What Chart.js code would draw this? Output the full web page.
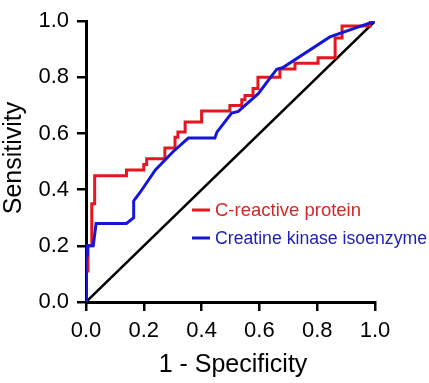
<!DOCTYPE html>
<html>
<head>
<meta charset="utf-8">
<script src="https://cdn.jsdelivr.net/npm/chart.js@4/dist/chart.umd.min.js"></script>
<style>
  html, body { margin: 0; padding: 0; background: #fff; }
  #wrap { width: 429px; height: 383px; }
</style>
</head>
<body>
<div id="wrap"><canvas id="rocchart" width="429" height="383"></canvas></div>
<script>
// ROC points: [1 - specificity, sensitivity]
const crpFpr  = [0, 0, 0.007, 0.007, 0.02, 0.02, 0.03, 0.03, 0.14, 0.14, 0.2, 0.2, 0.21, 0.21, 0.273, 0.273, 0.308, 0.308, 0.318, 0.318, 0.343, 0.343, 0.40, 0.40, 0.498, 0.498, 0.539, 0.539, 0.55, 0.55, 0.578, 0.578, 0.595, 0.595, 0.671, 0.671, 0.723, 0.723, 0.803, 0.803, 0.862, 0.862, 0.886, 0.886, 0.983, 0.983, 1];
const crpSens = [0, 0.11, 0.11, 0.2, 0.2, 0.35, 0.35, 0.45, 0.45, 0.47, 0.47, 0.49, 0.49, 0.51, 0.51, 0.548, 0.548, 0.587, 0.587, 0.605, 0.605, 0.641, 0.641, 0.68, 0.68, 0.70, 0.70, 0.72, 0.72, 0.735, 0.735, 0.76, 0.76, 0.80, 0.80, 0.83, 0.83, 0.85, 0.85, 0.87, 0.87, 0.94, 0.94, 0.983, 0.983, 1, 1];

const ckFpr  = [0, 0, 0.005, 0.005, 0.025, 0.035, 0.14, 0.165, 0.165, 0.187, 0.24, 0.302, 0.354, 0.446, 0.453, 0.504, 0.527, 0.596, 0.66, 0.68, 0.844, 1];
const ckSens = [0, 0.15, 0.17, 0.2, 0.2, 0.28, 0.28, 0.30, 0.36, 0.39, 0.47, 0.536, 0.584, 0.584, 0.605, 0.673, 0.679, 0.742, 0.829, 0.834, 0.944, 1];

const refFpr  = [0, 1];
const refSens = [0, 1];

const tickVals = [0, 0.2, 0.4, 0.6, 0.8, 1.0];

const legendNames  = ['C-reactive protein', 'Creatine kinase isoenzyme'];
const legendColors = ['rgb(228,22,32)', 'rgb(22,22,214)'];
const legendText   = ['rgb(210,40,40)', 'rgb(30,30,180)'];

function pts(xs, ys) {
  return xs.map((x, i) => ({ x: x, y: ys[i] }));
}

const FONT = '"Liberation Sans", Arial, sans-serif';

// titles and legend are drawn by hand to sit where the original has them
const extras = {
  id: 'extras',
  afterDraw(chart) {
    const c = chart.ctx;
    c.save();
    c.fillStyle = '#000';
    c.textAlign = 'center';
    c.textBaseline = 'middle';
    c.font = '25px ' + FONT;
    c.fillText('1 - Specificity', 233, 365);
    c.translate(14, 158);
    c.rotate(-Math.PI / 2);
    c.fillText('Sensitivity', 0, 0);
    c.restore();

    c.save();
    c.textAlign = 'left';
    c.textBaseline = 'middle';
    const rows = [210, 238];
    const sizes = [18.5, 18];
    const widths = [152, 212];
    legendNames.forEach((name, i) => {
      c.strokeStyle = legendColors[i];
      c.lineWidth = 3;
      c.beginPath();
      c.moveTo(192, rows[i]);
      c.lineTo(210, rows[i]);
      c.stroke();
      c.font = sizes[i] + 'px ' + FONT;
      c.fillStyle = legendText[i];
      c.fillText(name, 215, rows[i] + 1, widths[i]);
    });
    c.restore();
  }
};

const axisCommon = {
  type: 'linear',
  min: 0,
  max: 1,
  afterBuildTicks: (scale) => { scale.ticks = tickVals.map(v => ({ value: v })); },
  grid: {
    drawOnChartArea: false,
    drawTicks: true,
    tickLength: 9,
    color: '#000',
    lineWidth: 2.5
  },
  border: { color: '#000', width: 3 },
  ticks: {
    color: '#000',
    font: { family: FONT, size: 22 },
    callback: (v) => Number(v).toFixed(1)
  }
};

const rocconfig = {
  type: 'line',
  data: {
    datasets: [
      {
        label: legendNames[1],
        data: pts(ckFpr, ckSens),
        borderColor: legendColors[1],
        borderWidth: 3,
        pointRadius: 0,
        tension: 0,
        order: 0
      },
      {
        label: legendNames[0],
        data: pts(crpFpr, crpSens),
        borderColor: legendColors[0],
        borderWidth: 3,
        pointRadius: 0,
        tension: 0,
        order: 1
      },
      {
        label: 'reference',
        data: pts(refFpr, refSens),
        borderColor: '#000',
        borderWidth: 2.5,
        pointRadius: 0,
        order: 2
      }
    ]
  },
  options: {
    responsive: false,
    animation: false,
    layout: { padding: { top: 12, right: 54, left: 0, bottom: 0 } },
    scales: {
      x: Object.assign({}, axisCommon, {
        position: 'bottom',
        ticks: Object.assign({}, axisCommon.ticks, { padding: 7, maxRotation: 0 }),
        afterFit: (scale) => { scale.height = 81; }
      }),
      y: Object.assign({}, axisCommon, {
        position: 'left',
        ticks: Object.assign({}, axisCommon.ticks, { padding: 8 }),
        afterFit: (scale) => { scale.width = 86; }
      })
    },
    plugins: {
      legend: { display: false },
      tooltip: { enabled: false }
    }
  },
  plugins: [extras]
};

const rocchart = new Chart(document.getElementById('rocchart'), rocconfig);
</script>
</body>
</html>
